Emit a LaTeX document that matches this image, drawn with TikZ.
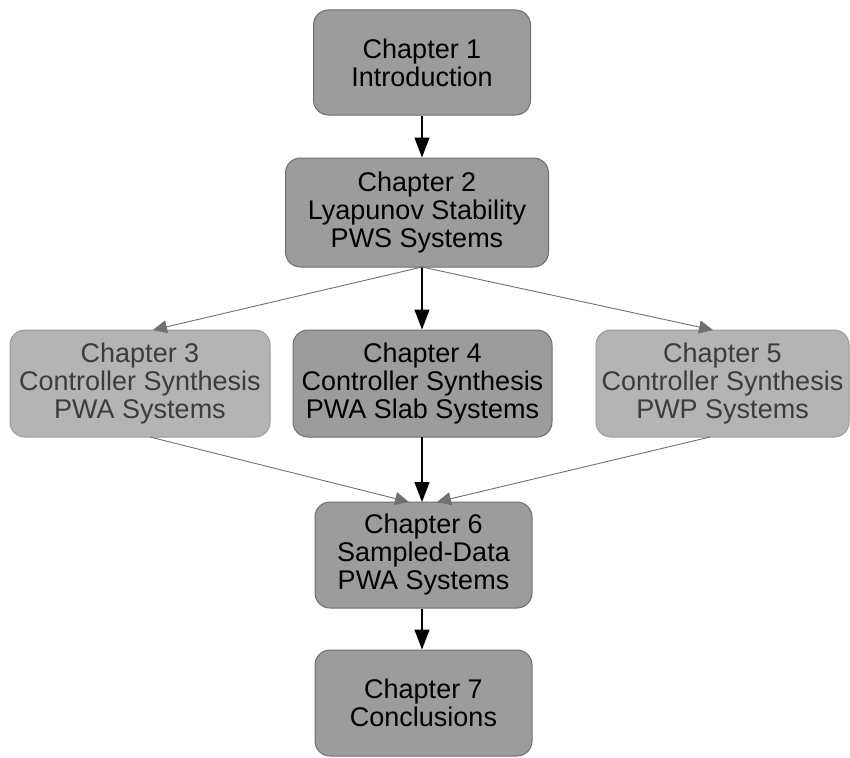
\documentclass[tikz,border=0pt]{standalone}
\usepackage{fontspec}
\setmainfont{Liberation Sans}
\usetikzlibrary{arrows.meta}
\definecolor{boxfill}{HTML}{9C9C9C}
\definecolor{boxedge}{HTML}{6E6E6E}
\definecolor{lightfill}{HTML}{B4B4B4}
\definecolor{lighttext}{HTML}{3C3C3C}
\definecolor{diagline}{HTML}{707070}
\tikzset{
  chap/.style={draw=boxedge, line width=1pt, fill=boxfill, rounded corners=15pt,
    align=center, inner sep=0pt, font=\fontsize{27}{28}\selectfont, text=black},
  chaplight/.style={chap, fill=lightfill, draw=lightfill!85!black, text=lighttext},
  mainarrow/.style={draw=black, line width=1.2pt, -{Triangle[length=20pt,width=15pt]}},
  sidearrow/.style={draw=diagline, line width=0.9pt, -{Triangle[length=14pt,width=13pt]}}
}
\begin{document}
\begin{tikzpicture}[x=1pt,y=-1pt]
\useasboundingbox (0,0) rectangle (850,757);
\node[chap, minimum width=217pt, minimum height=105pt] (c1) at (422,62.5) {Chapter 1\\Introduction};
\node[chap, minimum width=263pt, minimum height=109pt] (c2) at (417,212.5) {Chapter 2\\Lyapunov Stability\\PWS Systems};
\node[chaplight, minimum width=260pt, minimum height=107pt] (c3) at (140,383.5) {Chapter 3\\Controller Synthesis\\PWA Systems};
\node[chap, minimum width=259pt, minimum height=107pt] (c4) at (422.5,383.5) {Chapter 4\\Controller Synthesis\\PWA Slab Systems};
\node[chaplight, minimum width=253pt, minimum height=107pt] (c5) at (722.5,383.5) {Chapter 5\\Controller Synthesis\\PWP Systems};
\node[chap, minimum width=217pt, minimum height=106pt] (c6) at (423.5,555) {Chapter 6\\Sampled-Data\\PWA Systems};
\node[chap, minimum width=217pt, minimum height=106pt] (c7) at (423.5,703) {Chapter 7\\Conclusions};
\coordinate (c2b) at (422,267);
\coordinate (c3t) at (153,330);
\coordinate (c5t) at (713,330);
\coordinate (c3b) at (150,437);
\coordinate (c5b) at (710,437);
\coordinate (c6l) at (409,502);
\coordinate (c6r) at (437,502);
\coordinate (c4b) at (422,437);
\coordinate (c6t) at (422,502);
\draw[mainarrow] (c1.south) -- (c2.north -| c1.south);
\draw[mainarrow] (c2b) -- (c2b |- c4.north);
\draw[sidearrow] (c2b) -- (c3t);
\draw[sidearrow] (c2b) -- (c5t);
\draw[mainarrow] (c4b) -- (c6t);
\draw[sidearrow] (c3b) -- (c6l);
\draw[sidearrow] (c5b) -- (c6r);
\draw[mainarrow] (c6.south -| c6t) -- (c7.north -| c6t);
\end{tikzpicture}
\end{document}
